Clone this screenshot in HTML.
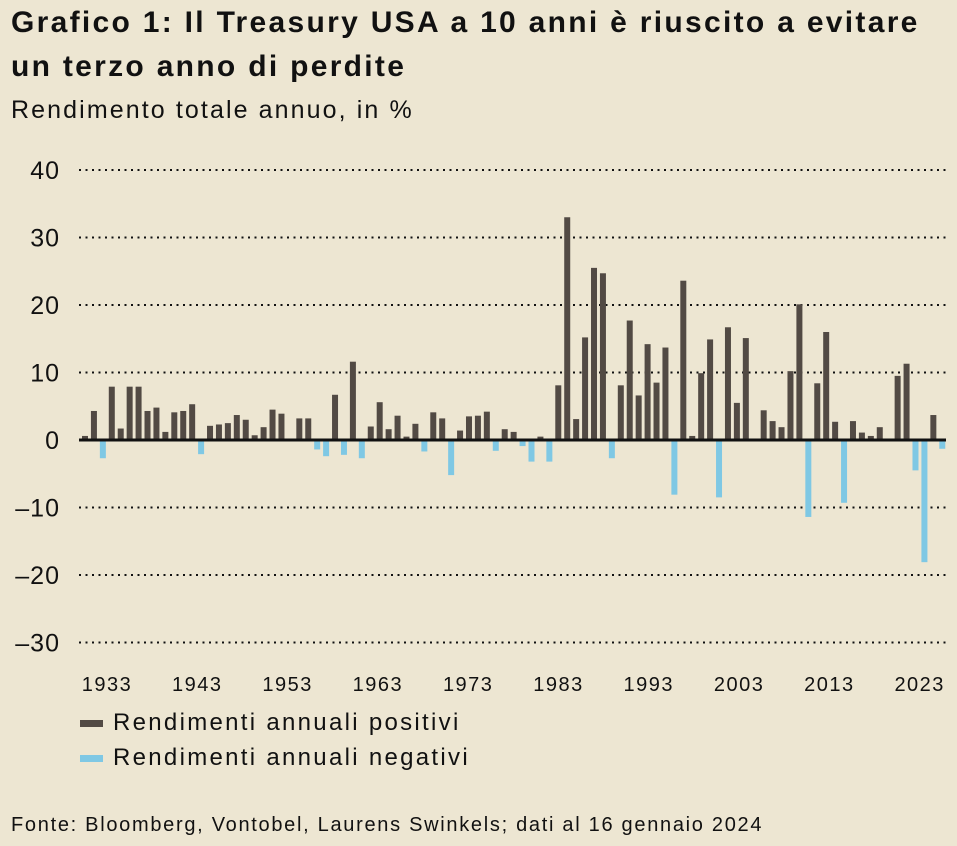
<!DOCTYPE html>
<html><head><meta charset="utf-8"><style>
body{margin:0;background:#ede6d2;}
#wrap{position:relative;width:957px;height:846px;background:#ede6d2;font-family:"Liberation Sans",sans-serif;color:#111;overflow:hidden}
.t{position:absolute;white-space:nowrap}
</style></head><body>
<div id="wrap">
<div class="t" style="left:11px;top:1px;font-size:30px;font-weight:bold;line-height:44px;letter-spacing:2.3px">Grafico 1: Il Treasury USA a 10 anni è riuscito a evitare<br>un terzo anno di perdite</div>
<div class="t" style="left:11px;top:96px;font-size:25px;letter-spacing:2.1px">Rendimento totale annuo, in %</div>
<svg id="chart" width="957" height="846" style="position:absolute;left:0;top:0"></svg>
<div class="t" style="left:80px;top:709px;font-size:24px;letter-spacing:2.3px"><span style="display:inline-block;width:23px;height:7px;background:#524a44;vertical-align:middle;margin-right:10px"></span>Rendimenti annuali positivi</div>
<div class="t" style="left:80px;top:744px;font-size:24px;letter-spacing:2.3px"><span style="display:inline-block;width:23px;height:7px;background:#7fc8e4;vertical-align:middle;margin-right:10px"></span>Rendimenti annuali negativi</div>
<div class="t" style="left:11px;top:814px;font-size:20px;letter-spacing:1.7px">Fonte: Bloomberg, Vontobel, Laurens Swinkels; dati al 16 gennaio 2024</div>
</div>
<script>
const startYear = 1928;
const values = [0.6,4.3,-2.7,7.9,1.7,7.9,7.9,4.3,4.8,1.2,4.1,4.3,5.3,-2.1,2.1,2.3,2.5,3.7,3.0,0.7,1.9,4.5,3.9,0,3.2,3.2,-1.4,-2.4,6.7,-2.2,11.6,-2.7,2.0,
5.6,1.6,3.6,0.5,2.4,-1.7,4.1,3.2,-5.2,1.4,3.5,3.6,4.2,-1.6,1.6,1.2,-0.9,-3.2,0.5,-3.2,8.1,33.0,3.1,15.2,25.5,24.7,-2.7,8.1,17.7,6.6,14.2,8.5,
13.7,-8.1,23.6,0.6,9.9,14.9,-8.5,16.7,5.5,15.1,0.2,4.4,2.8,1.9,10.2,20.1,-11.4,8.4,16.0,2.7,-9.3,2.8,1.1,0.6,1.9,0,9.5,11.3,-4.5,-18.1,3.7,-1.3];
const yTicks = [40,30,20,10,0,-10,-20,-30];
const xTickYears = [1933,1943,1953,1963,1973,1983,1993,2003,2013,2023];

const svg = document.getElementById('chart');
const NS = 'http://www.w3.org/2000/svg';
function y(v){ return 440 - v*6.75; }
function x(i){ return 85 + i*8.93; }
function xLabel(yr){ return 107 + (yr-1933)*9.03; }

yTicks.forEach(v=>{
  if(v!==0){
    const l=document.createElementNS(NS,'line');
    
    
    l.setAttribute('x1',79);l.setAttribute('x2',946);l.setAttribute('y1',y(v));l.setAttribute('y2',y(v));
    l.setAttribute('stroke','#111');l.setAttribute('stroke-width','2');l.setAttribute('stroke-dasharray','2 4.5');
    svg.appendChild(l);
  }
  const t=document.createElementNS(NS,'text');
  
  
  t.setAttribute('x',60);t.setAttribute('y',y(v)+9);t.setAttribute('text-anchor','end');
  t.setAttribute('font-size','25');t.setAttribute('letter-spacing','1');t.setAttribute('font-family','Liberation Sans, sans-serif');t.setAttribute('fill','#111');
  t.textContent = v<0 ? '\u2013'+Math.abs(v) : String(v);
  svg.appendChild(t);
});
values.forEach((v,i)=>{
  const r=document.createElementNS(NS,'rect');
  
  
  r.setAttribute('x',x(i)-3);r.setAttribute('width',6);
  r.setAttribute('y',Math.min(y(v),y(0)));r.setAttribute('height',Math.abs(y(v)-y(0)));
  r.setAttribute('fill', v>=0 ? '#524a44' : '#7fc8e4');
  svg.appendChild(r);
});
const z=document.createElementNS(NS,'line');


z.setAttribute('x1',79);z.setAttribute('x2',946);z.setAttribute('y1',y(0));z.setAttribute('y2',y(0));
z.setAttribute('stroke','#111');z.setAttribute('stroke-width','3');
svg.appendChild(z);
xTickYears.forEach(yr=>{
  const t=document.createElementNS(NS,'text');
  
  
  t.setAttribute('x',xLabel(yr));t.setAttribute('y',691);t.setAttribute('text-anchor','middle');
  t.setAttribute('font-size','20');t.setAttribute('letter-spacing','1.5');t.setAttribute('font-family','Liberation Sans, sans-serif');t.setAttribute('fill','#111');
  t.textContent=String(yr);
  svg.appendChild(t);
});
</script>
</body></html>
